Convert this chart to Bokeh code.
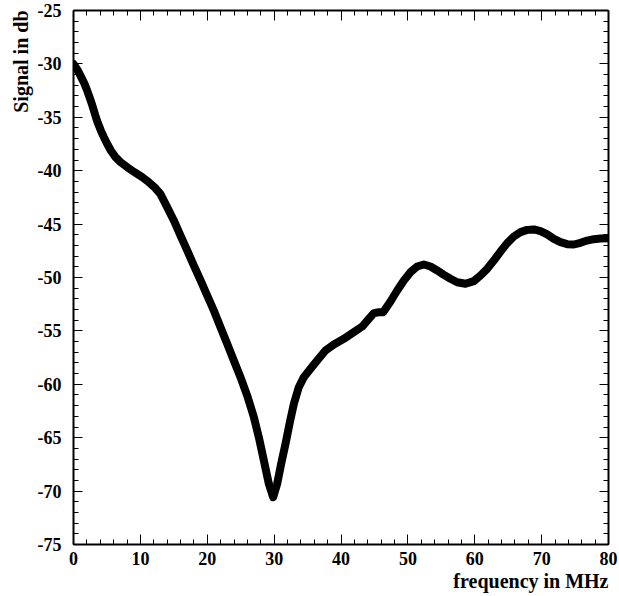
from bokeh.plotting import figure
from bokeh.models import (Range1d, LinearAxis, SingleIntervalTicker, Title,
                          ColumnDataSource, CustomJSTickFormatter)
from bokeh.embed import file_html
from bokeh.resources import INLINE

freq = [0, 0.65, 1.15, 1.64, 2.04, 2.39, 2.74, 3.04, 3.34, 3.69,
        4.09, 4.54, 5.03, 5.58, 6.28, 7.03, 8.03, 9.12, 10.27, 11.26,
        12.11, 13.01, 14.0, 15.0, 16.0, 17.0, 18.0, 19.0, 20.0, 20.98,
        21.98, 22.98, 23.97, 24.97, 25.97, 26.97, 27.71, 28.46, 29.21, 29.86,
        30.45, 31.05, 31.7, 32.35, 32.95, 33.69, 34.44, 35.44, 36.44, 37.68,
        38.93, 40.42, 41.92, 43.17, 44.16, 44.91, 45.66, 46.3, 47.4, 48.4,
        49.4, 50.39, 51.39, 52.39, 53.38, 54.38, 55.38, 56.37, 57.37, 58.62,
        59.86, 60.86, 61.86, 62.85, 63.85, 64.85, 65.84, 66.84, 67.84, 68.83,
        69.83, 70.83, 71.83, 72.82, 73.82, 74.82, 75.81, 76.81, 77.81, 78.8,
        80]
signal = [-30.0, -30.62, -31.24, -31.87, -32.49, -33.11, -33.74, -34.36, -34.99, -35.61,
          -36.24, -36.86, -37.48, -38.11, -38.73, -39.2, -39.67, -40.14, -40.6, -41.07,
          -41.54, -42.2, -43.41, -44.66, -46.07, -47.47, -48.88, -50.28, -51.69, -53.09,
          -54.65, -56.21, -57.77, -59.33, -61.05, -63.08, -64.95, -67.13, -69.32, -70.57,
          -69.32, -67.45, -65.57, -63.55, -61.83, -60.27, -59.33, -58.55, -57.77, -56.84,
          -56.27, -55.74, -55.12, -54.59, -53.87, -53.34, -53.25, -53.25, -52.25, -51.22,
          -50.28, -49.5, -48.97, -48.78, -48.97, -49.34, -49.75, -50.12, -50.44, -50.59,
          -50.34, -49.81, -49.19, -48.41, -47.57, -46.78, -46.16, -45.75, -45.54, -45.5,
          -45.66, -45.97, -46.38, -46.69, -46.88, -46.91, -46.75, -46.54, -46.41, -46.35,
          -46.32]

x_title = "frequency in MHz"
y_title = "Signal in db"

FONT = "Liberation Serif"

p = figure(width=619, height=596, x_range=Range1d(0, 80), y_range=Range1d(-75, -25),
           output_backend="svg", toolbar_location=None,
           x_axis_location=None, y_axis_location=None,
           min_border_left=73, min_border_right=11, min_border_top=10, min_border_bottom=52)
p.outline_line_color = None
p.background_fill_color = "white"
p.border_fill_color = "white"
p.grid.visible = False


def make_axis(ticker_interval, show_labels, maj_in, standoff):
    ax = LinearAxis(ticker=SingleIntervalTicker(interval=ticker_interval, num_minor_ticks=5))
    ax.axis_line_width = 2
    ax.axis_line_color = "black"
    ax.major_tick_in = maj_in
    ax.major_tick_out = 0
    ax.minor_tick_in = 5
    ax.minor_tick_out = 0
    ax.major_tick_line_width = 1
    ax.minor_tick_line_width = 1
    ax.major_tick_line_color = "black"
    ax.minor_tick_line_color = "black"
    if show_labels:
        ax.formatter = CustomJSTickFormatter(code="return tick.toFixed(0);")
        ax.major_label_text_font = FONT
        ax.major_label_text_font_style = "bold"
        ax.major_label_text_font_size = "18px"
        ax.major_label_text_color = "black"
        ax.major_label_standoff = standoff
    else:
        ax.formatter = CustomJSTickFormatter(code="return '';")
        ax.major_label_text_font_size = "0px"
        ax.major_label_standoff = 0
    return ax


p.add_layout(make_axis(10, True, 10, 7), "below")
p.add_layout(make_axis(10, False, 10, 0), "above")
p.add_layout(make_axis(5, True, 9, 12), "left")
p.add_layout(make_axis(5, False, 9, 0), "right")

src = ColumnDataSource(dict(f=freq, s=signal))
p.line("f", "s", source=src, line_width=8, line_color="black",
       line_join="round", line_cap="round")

p.add_layout(Title(text=x_title, align="right", text_font=FONT, text_font_style="bold",
                   text_font_size="20px", text_color="black", standoff=0), "below")
p.add_layout(Title(text=y_title, align="right", text_font=FONT, text_font_style="bold",
                   text_font_size="20px", text_color="black", standoff=5), "left")

open("out.html", "w").write(file_html(p, INLINE))
